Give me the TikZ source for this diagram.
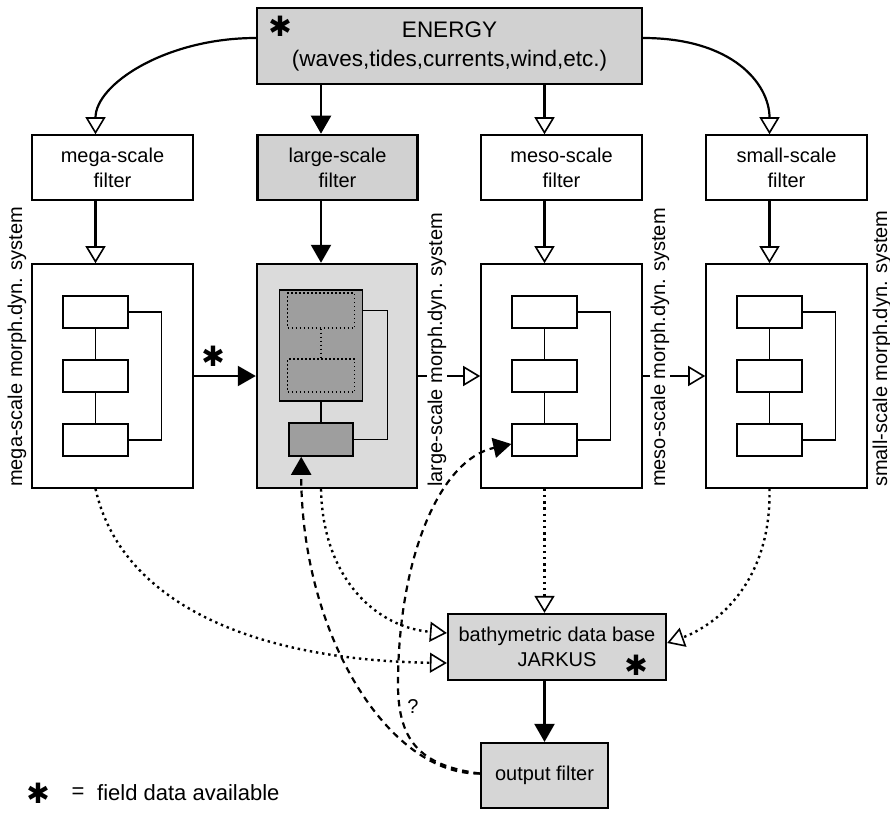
\documentclass[tikz,border=0pt]{standalone}
\usepackage{fontspec}
\setmainfont{Liberation Sans}
\newfontfamily\symfont{DejaVu Sans}
\usetikzlibrary{arrows.meta,calc}
\definecolor{scrA}{gray}{0.82}
\definecolor{scrB}{gray}{0.86}
\definecolor{scrC}{gray}{0.62}
\definecolor{scrD}{gray}{0.84}
\begin{document}
\begin{tikzpicture}[x=1pt,y=-1pt,
  every node/.style={font=\fontsize{20}{25}\selectfont},
  box/.style={draw=black, line width=1.5pt, rectangle, inner sep=0pt, align=center},
  ibox/.style={draw=black, line width=1.3pt, fill=white, minimum width=65pt, minimum height=32pt, inner sep=0pt},
  dbox/.style={draw=black, line width=1.6pt, fill=scrC, inner sep=0pt},
  dotr/.style={draw=black, line width=1.2pt, dash pattern=on 1.5pt off 2.5pt, inner sep=0pt},
  thinl/.style={line width=1.3pt},
  conn/.style={line width=2.2pt},
  openarr/.style={-{Triangle[open,length=17pt,width=20pt,line width=1.6pt]}},
  fillarr/.style={-{Triangle[length=18pt,width=20pt]}},
  dotl/.style={line width=2.4pt, dash pattern=on 2.4pt off 3.8pt},
  dashl/.style={line width=2.2pt, dash pattern=on 6.5pt off 5pt},
  syslab/.style={rotate=90, anchor=base west, fill=white, inner sep=1pt},
  astx/.style={font=\symfont\fontsize{28}{28}\selectfont, inner sep=0pt},
  legtext/.style={font=\fontsize{22}{26}\selectfont, inner sep=0pt}
]
\useasboundingbox (0,0) rectangle (890,813);

% column coordinates
\coordinate (colA) at (95.5,0);
\coordinate (colB) at (321,0);
\coordinate (colC) at (544.5,0);
\coordinate (colD) at (769.5,0);

% energy
\node[box, fill=scrA, line width=2.2pt, minimum width=385pt, minimum height=76pt,
      font=\fontsize{22.5}{29}\selectfont] (energy) at (449.5,46) {ENERGY\\(waves,tides,currents,wind,etc.)};
\node[astx] (st1) at (280,26) {✱};

% filters
\node[box, minimum width=161pt, minimum height=65pt] (mf) at (112.5,167.5) {mega-scale\\filter};
\node[box, fill=scrA, line width=2.6pt, minimum width=160pt, minimum height=65pt] (lf) at (337.5,167.5) {large-scale\\filter};
\node[box, minimum width=161pt, minimum height=65pt] (msf) at (561.5,167.5) {meso-scale\\filter};
\node[box, minimum width=161pt, minimum height=65pt] (sf) at (786.5,167.5) {small-scale\\filter};

% systems
\node[box, line width=1.6pt, minimum width=161pt, minimum height=224pt] (ms) at (112.5,376) {};
\node[box, fill=scrB, line width=2.4pt, minimum width=160pt, minimum height=224pt] (ls) at (337,376) {};
\node[box, line width=1.6pt, minimum width=161pt, minimum height=224pt] (mes) at (561.5,376) {};
\node[box, line width=1.6pt, minimum width=161pt, minimum height=224pt] (ss) at (786.5,376) {};

% inner structure of the white systems
\foreach \n/\x in {ms/32,mes/481,ss/706}{
  \node[ibox] (\n-1) at (\x+63.5,312) {};
  \node[ibox] (\n-2) at (\x+63.5,376) {};
  \node[ibox] (\n-3) at (\x+63.5,440) {};
  \draw[thinl] (\n-1) -- (\n-2);
  \draw[thinl] (\n-2) -- (\n-3);
  \draw[thinl] (\n-1.east) -- ++(33,0) |- (\n-3.east);
}

% inner structure of the large system
\node[dbox, minimum width=83pt, minimum height=111pt] (lbig) at (321,345.5) {};
\node[dotr, minimum width=67pt, minimum height=35pt] (dtop) at (321,310.5) {};
\node[dotr, minimum width=67pt, minimum height=33pt] (dbot) at (321,375.5) {};
\draw[dotr] (dtop) -- (dbot);
\node[dbox, minimum width=64pt, minimum height=33pt] (lsb) at (321,439.5) {};
\draw[thinl] (lbig) -- (lsb);
\draw[thinl] (lbig.east |- dtop) -- ++(24,0) |- (lsb.east);

% energy to filters
\draw[conn, openarr] ([yshift=8pt]energy.west) .. controls +(-90,0) and +(0,-50) .. (mf.north -| colA);
\draw[conn, fillarr] (energy.south -| colB) -- (lf.north -| colB);
\draw[conn, openarr] (energy.south -| colC) -- (msf.north -| colC);
\draw[conn, openarr] ([yshift=8pt]energy.east) .. controls +(90,0) and +(0,-50) .. (sf.north -| colD);

% filters to systems
\draw[conn, openarr] (mf.south -| colA) -- (ms.north -| colA);
\draw[conn, fillarr] (lf.south -| colB) -- (ls.north -| colB);
\draw[conn, openarr] (msf.south -| colC) -- (mes.north -| colC);
\draw[conn, openarr] (sf.south -| colD) -- (ss.north -| colD);

% system to system
\draw[conn, fillarr] (ms.east) -- (ls.west);
\draw[conn, openarr] (ls.east) -- (mes.west);
\draw[conn, openarr] (mes.east) -- (ss.west);
\node[astx] (st2) at (213,356) {✱};

% labels
\node[syslab] (lab-ms) at (22,488) {mega-scale morph.dyn. system};
\node[syslab] (lab-ls) at (442,488) {large-scale morph.dyn. system};
\node[syslab] (lab-mes) at (665,488) {meso-scale morph.dyn. system};
\node[syslab] (lab-ss) at (887,488) {small-scale morph.dyn. system};

% data base and output filter
\node[box, fill=scrD, line width=2.2pt, minimum width=218pt, minimum height=66pt] (bathy) at (557,647) {bathymetric data base\\JARKUS};
\node[astx] (st3) at (636,665) {✱};
\node[box, fill=scrD, line width=2.2pt, minimum width=127pt, minimum height=65pt] (outf) at (544.5,775.5) {output filter};

% dotted connectors to data base
\draw[dotl, openarr] (mes.south -| colC) -- (bathy.north -| colC);
\draw[dotl, openarr] (ls.south -| colB) .. controls +(2,92) and +(-68,-5) .. ([yshift=14pt]bathy.west);
\draw[dotl, openarr] (ms.south -| colA) .. controls +(25,112) and +(-198,-3) .. ([yshift=-16pt]bathy.west);
\draw[dotl, openarr] (ss.south -| colD) .. controls +(2,100) and +(42,-15) .. ([yshift=4pt]bathy.east);

% data base to output filter
\draw[conn, fillarr] (bathy.south -| colC) -- (outf.north -| colC);

% dashed feedback
\coordinate (dmid) at (398,680);
\draw[dashl, fillarr] ([yshift=2pt]outf.west) .. controls +(-90,2) and +(0,180) .. ([xshift=13pt]lsb.south west);
\draw[dashl, fillarr] ([yshift=2pt]outf.west) .. controls +(-61,-8) and +(-1,60) .. (dmid)
      .. controls +(1,-120) and +(-73,16) .. ([yshift=-4pt]mes-3.west);
\node (qm) at (413,707) {?};

% legend
\node[astx] (st4) at (38,793) {✱};
\node[legtext] (eq) at (78,793) {=};
\node[legtext, anchor=west] (legtxt) at (97,793) {field data available};
\end{tikzpicture}
\end{document}
